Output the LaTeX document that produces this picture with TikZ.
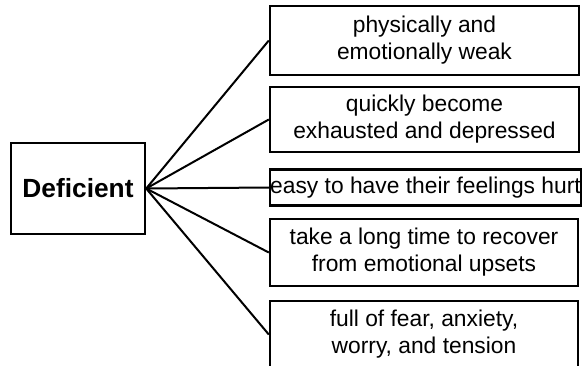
\documentclass[tikz,border=0pt]{standalone}
\usepackage{fontspec}
\setmainfont{Liberation Sans}
\usepackage{tikz}
\usetikzlibrary{positioning}

\begin{document}
\begin{tikzpicture}[
    x=1pt, y=-1pt,
    trait/.style={draw, line width=2.4pt, align=center, inner sep=0pt,
                  font=\fontsize{22.8}{27}\selectfont},
    link/.style={line width=2pt}
]
    \useasboundingbox (0,0) rectangle (584,365);

    \node[draw, line width=2.4pt, minimum width=134pt, minimum height=91pt,
          inner sep=0pt, font=\fontsize{26.3}{30}\selectfont\bfseries]
        (D) at (78,188.5) {Deficient};

    \node[trait, minimum width=309pt, minimum height=69pt]
        (T1) at (424.5,40.5) {physically and\\emotionally weak};
    \node[trait, minimum width=309pt, minimum height=65pt]
        (T2) at (424.5,119.5) {quickly become\\exhausted and depressed};
    \node[trait, minimum width=311pt, minimum height=36pt]
        (T3) at (425.5,187.5) {easy to have their feelings hurt};
    \node[trait, minimum width=308pt, minimum height=67pt]
        (T4) at (424,252.5) {take a long time to recover\\from emotional upsets};
    \node[trait, minimum width=308pt, minimum height=67pt]
        (T5) at (424,334.5) {full of fear, anxiety,\\worry, and tension};

    % fan out from the left box
    \foreach \t in {T1,T2,T3,T4,T5}
        \draw[link] (D.east) -- (\t.west);
\end{tikzpicture}
\end{document}
